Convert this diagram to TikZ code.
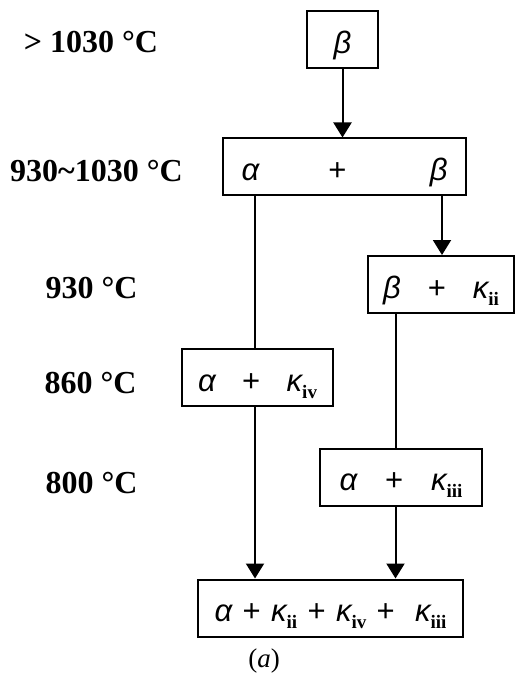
\documentclass[tikz,border=0pt]{standalone}
\usepackage{fontspec}
\setmainfont{Liberation Serif}
\newfontfamily\gkfont{Liberation Sans}
\usetikzlibrary{arrows.meta}
\newcommand{\ga}{{\gkfont\itshape α}}
\newcommand{\gb}{{\gkfont\itshape β}}
\newcommand{\kap}[1]{{\gkfont\itshape κ}\raisebox{-7pt}{\fontsize{19}{19}\selectfont\bfseries #1}}
\newcommand{\pl}{{\gkfont +}}
\begin{document}
\begin{tikzpicture}[x=1pt,y=-1pt,
  phase/.style={draw, line width=2pt, inner sep=0pt, text height=27pt, text depth=0pt,
    minimum height=57pt, font=\fontsize{31}{31}\selectfont},
  temp/.style={anchor=base, inner sep=0pt, font=\fontsize{32}{32}\selectfont\bfseries},
  flow/.style={line width=2pt},
  arr/.style={flow, -{Triangle[length=15pt,width=18pt]}}]
\useasboundingbox (0,0) rectangle (515,676);

% temperature labels
\node[temp] (t1) at (91,53) {> 1030 °C};
\node[temp] (t2) at (96.5,182) {930\char`~1030 °C};
\node[temp] (t3) at (91.5,298) {930 °C};
\node[temp] (t4) at (90.5,393) {860 °C};
\node[temp] (t5) at (91.5,493) {800 °C};

% phase boxes
\node[phase, minimum width=71pt] (b1) at (342.5,40) {\gb};
\node[phase, minimum width=243pt] (b2) at (344.5,167) {\makebox[206pt]{\ga\hfill\pl\hspace{14pt}\hfill\gb}};
\node[phase, minimum width=146pt] (b3) at (441,284.5) {\makebox[116pt]{\gb\hfill\pl\hfill\kap{ii}}};
\node[phase, minimum width=151pt] (b4) at (257.5,377.5) {\makebox[119pt]{\ga\hfill\pl\hfill\kap{iv}}};
\node[phase, minimum width=162pt] (b5) at (401,477) {\makebox[123pt]{\ga\hfill\pl\hfill\kap{iii}}};
\node[phase, minimum width=265pt] (b6) at (330.5,608) {\makebox[232pt]{\ga\hfill\pl\hfill\kap{ii}\hfill\pl\hfill\kap{iv}\hfill\pl\hspace{10pt}\hfill\kap{iii}}};

\node[inner sep=0pt, anchor=base, font=\fontsize{27}{27}\selectfont] (cap) at (264,667) {(\textit{a})};

% connectors
\coordinate (lx) at (255,0);
\coordinate (rx) at (395.5,0);
\coordinate (mx) at (442,0);
\draw[arr] (b1.south -| b1.south) -- (b1.south |- b2.north);
\draw[flow] (b2.south -| lx) -- (b4.north -| lx);
\draw[arr] (b2.south -| mx) -- (b3.north -| mx);
\draw[flow] (b3.south -| rx) -- (b5.north -| rx);
\draw[arr] (b4.south -| lx) -- (b6.north -| lx);
\draw[arr] (b5.south -| rx) -- (b6.north -| rx);
\end{tikzpicture}
\end{document}
